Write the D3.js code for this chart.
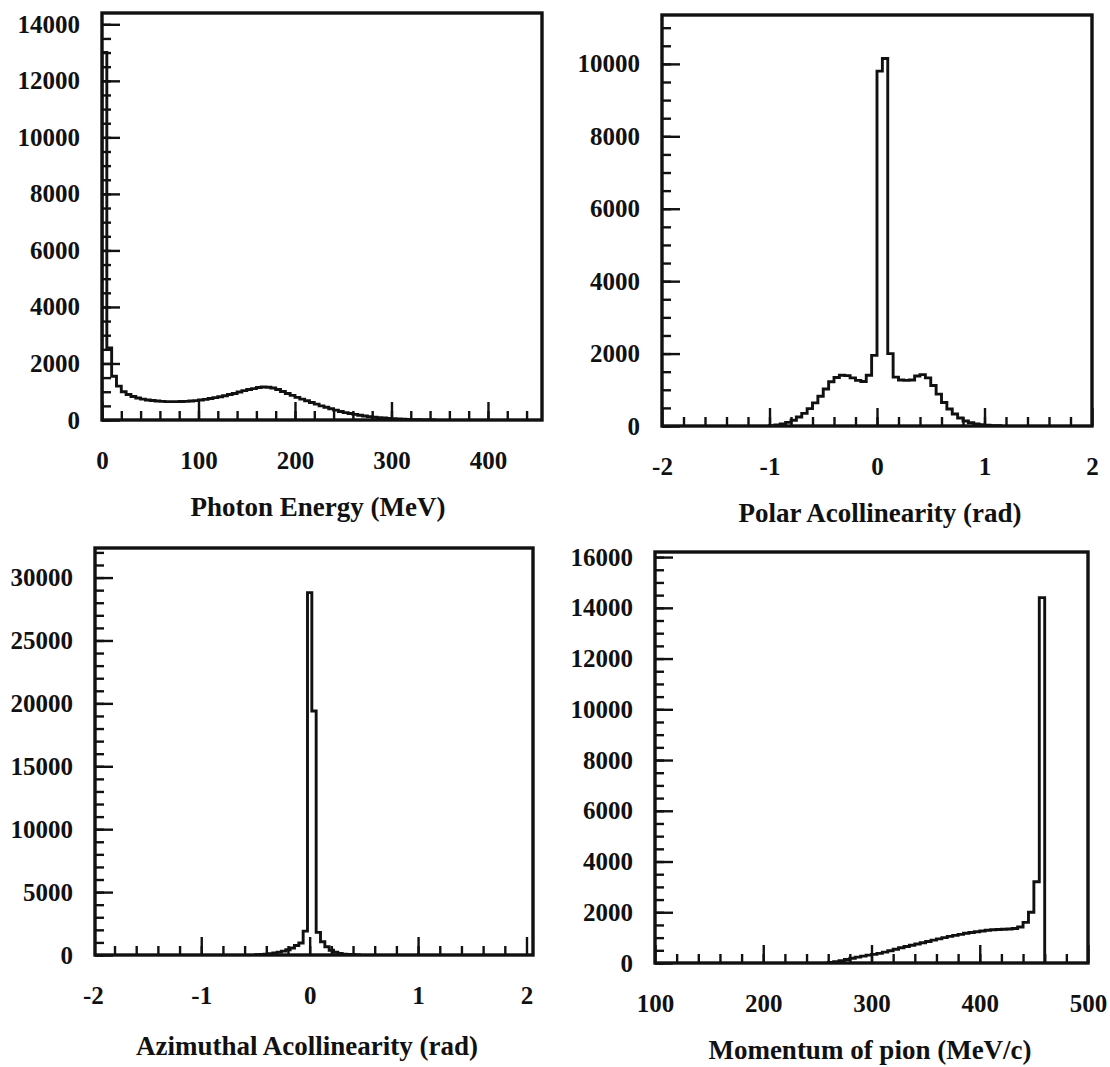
<!DOCTYPE html>
<html>
<head>
<meta charset="utf-8">
<script src="https://cdn.jsdelivr.net/npm/d3@7"></script>
<style>
  body { margin: 0; background: #fff; }
  svg { display: block; }
  text { font-family: "Liberation Serif", "Times New Roman", serif; font-weight: bold; fill: #111; }
</style>
</head>
<body>
<svg id="chart" width="1110" height="1067"></svg>
<script>
// histograms: first bin edge, bin width, counts per bin
const photonStart = 0, photonBin = 5;
const photonCounts = [13000, 2550, 1550, 1200, 1000, 900, 830, 780, 740, 710,
  690, 670, 660, 650, 650, 650, 655, 660, 670, 685,
  705, 730, 760, 790, 820, 860, 900, 940, 990, 1040,
  1080, 1110, 1150, 1170, 1160, 1130, 1080, 1010, 940, 870,
  800, 740, 680, 620, 560, 500, 450, 400, 350, 300,
  260, 230, 200, 170, 140, 120, 100, 85, 70, 58,
  46, 36, 28, 20, 14, 9, 6, 4, 2];

const polarStart = -1.0, polarBin = 0.05;
const polarCounts = [10, 30, 60, 100, 160, 250, 350, 480, 640, 820,
  1020, 1220, 1340, 1400, 1390, 1330, 1260, 1230, 1400, 1950,
  9800, 10150, 2000, 1350, 1270, 1260, 1270, 1380, 1420, 1330,
  1120, 880, 650, 470, 330, 220, 140, 90, 55, 35, 20, 10, 5];

const azimStart = -0.50, azimBin = 0.04;
const azimCounts = [20, 40, 70, 110, 160, 230, 310, 420, 560, 750,
  950, 1900, 28800, 19400, 1800, 1050, 650, 380, 220, 120, 70, 40, 20, 10];

const pionStart = 260, pionBin = 5;
const pionCounts = [20, 50, 90, 140, 190, 230, 270, 310, 340, 380,
  430, 480, 540, 600, 650, 700, 750, 800, 850, 900,
  950, 1000, 1050, 1090, 1130, 1170, 1200, 1230, 1260, 1290,
  1310, 1320, 1330, 1340, 1360, 1420, 1600, 2000, 3200, 14400];

// tick labels
const photonXTicks = [0, 100, 200, 300, 400];
const photonYTicks = [0, 2000, 4000, 6000, 8000, 10000, 12000, 14000];
const radTicks = [-2, -1, 0, 1, 2];
const polarYTicks = [0, 2000, 4000, 6000, 8000, 10000];
const azimYTicks = [0, 5000, 10000, 15000, 20000, 25000, 30000];
const pionXTicks = [100, 200, 300, 400, 500];
const pionYTicks = [0, 2000, 4000, 6000, 8000, 10000, 12000, 14000, 16000];

const panels = [
  { left: 102, right: 542, top: 13, bottom: 420, xDom: [0, 456], yDom: [0, 14400],
    start: photonStart, bin: photonBin, counts: photonCounts,
    xTicks: photonXTicks, xMinor: d3.range(0, 456, 20), yTicks: photonYTicks, yMinor: d3.range(0, 14400, 500),
    title: 'Photon Energy (MeV)', tx: 318, ty: 507 },
  { left: 662, right: 1092, top: 15, bottom: 426, xDom: [-2, 2], yDom: [0, 11350],
    start: polarStart, bin: polarBin, counts: polarCounts,
    xTicks: radTicks, xMinor: d3.range(-1.8, 1.9, 0.2), yTicks: polarYTicks, yMinor: d3.range(0, 11350, 500),
    title: 'Polar Acollinearity (rad)', tx: 880, ty: 513 },
  { left: 95, right: 533, top: 548, bottom: 955, xDom: [-1.98, 2.06], yDom: [0, 32350],
    start: azimStart, bin: azimBin, counts: azimCounts,
    xTicks: radTicks, xMinor: d3.range(-1.8, 1.9, 0.2), yTicks: azimYTicks, yMinor: d3.range(0, 32350, 1000),
    title: 'Azimuthal Acollinearity (rad)', tx: 307, ty: 1046 },
  { left: 655, right: 1088, top: 552, bottom: 963, xDom: [100, 500], yDom: [0, 16200],
    start: pionStart, bin: pionBin, counts: pionCounts,
    xTicks: pionXTicks, xMinor: d3.range(120, 500, 20), yTicks: pionYTicks, yMinor: d3.range(0, 16200, 500),
    title: 'Momentum of pion (MeV/c)', tx: 870, ty: 1050 }
];

const svg = d3.select('#chart');
const ink = '#111';

function styleAxis(g) {
  g.attr('font-size', null).attr('font-family', null);
  g.select('.domain').remove();
  g.selectAll('line').attr('stroke', ink).attr('stroke-width', 2.4);
  g.selectAll('text').style('font-size', '25px');
}

panels.forEach((p, i) => {
  const x = d3.scaleLinear().domain(p.xDom).range([p.left, p.right]);
  const y = d3.scaleLinear().domain(p.yDom).range([p.bottom, p.top]);
  const g = svg.append('g');

  g.append('clipPath').attr('id', 'clip' + i)
    .append('rect')
    .attr('x', p.left).attr('y', p.top)
    .attr('width', p.right - p.left).attr('height', p.bottom - p.top);

  // minor ticks (inward, no labels)
  g.append('g').attr('transform', `translate(0,${p.bottom})`)
    .call(d3.axisBottom(x).tickValues(p.xMinor).tickSize(-9).tickFormat(''))
    .call(styleAxis);
  g.append('g').attr('transform', `translate(${p.left},0)`)
    .call(d3.axisLeft(y).tickValues(p.yMinor).tickSize(-9).tickFormat(''))
    .call(styleAxis);

  // major ticks with labels
  g.append('g').attr('transform', `translate(0,${p.bottom})`)
    .call(d3.axisBottom(x).tickValues(p.xTicks).tickSize(-18).tickPadding(31).tickFormat(d => String(d)))
    .call(styleAxis)
    .call(a => a.selectAll('.tick')
      .filter(d => x(d) < p.left || x(d) > p.right)
      .select('line').remove());
  g.append('g').attr('transform', `translate(${p.left},0)`)
    .call(d3.axisLeft(y).tickValues(p.yTicks).tickSize(-18).tickPadding(22).tickFormat(d => String(d)))
    .call(styleAxis);

  // histogram outline
  const pts = [[p.start, 0]];
  p.counts.forEach((c, k) => {
    pts.push([p.start + k * p.bin, c]);
    pts.push([p.start + (k + 1) * p.bin, c]);
  });
  pts.push([p.start + p.counts.length * p.bin, 0]);

  g.append('path')
    .datum(pts)
    .attr('clip-path', `url(#clip${i})`)
    .attr('fill', 'none')
    .attr('stroke', ink)
    .attr('stroke-width', 2.9)
    .attr('stroke-linejoin', 'miter')
    .attr('d', d3.line().x(d => x(d[0])).y(d => y(d[1])));

  // frame
  g.append('rect')
    .attr('x', p.left).attr('y', p.top)
    .attr('width', p.right - p.left).attr('height', p.bottom - p.top)
    .attr('fill', 'none').attr('stroke', ink).attr('stroke-width', 3.4);

  g.append('text')
    .attr('x', p.tx).attr('y', p.ty).attr('dy', '0.35em')
    .attr('text-anchor', 'middle')
    .style('font-size', '27px')
    .text(p.title);
});
</script>
</body>
</html>
